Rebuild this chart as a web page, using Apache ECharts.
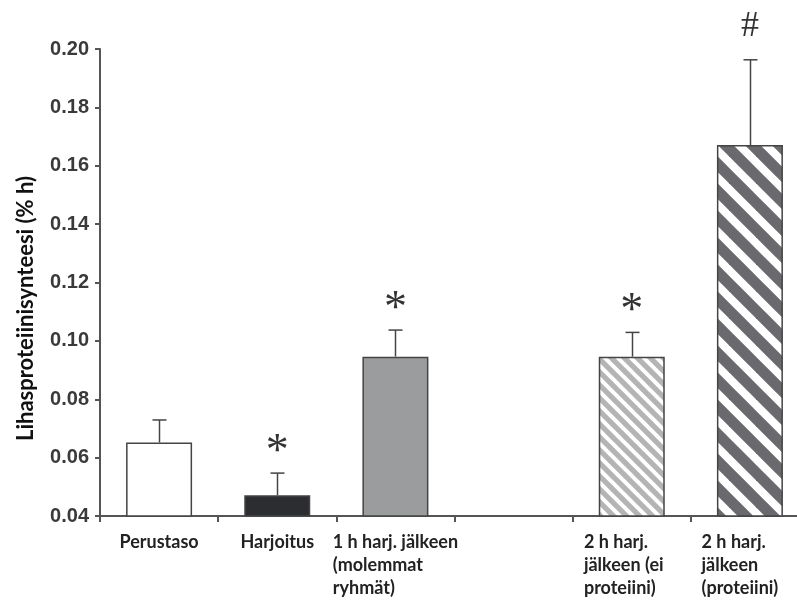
<!DOCTYPE html>
<html>
<head>
<meta charset="utf-8">
<script src="https://cdn.jsdelivr.net/npm/echarts@6/dist/echarts.min.js"></script>
<style>html,body{margin:0;padding:0;background:#fff;overflow:hidden;width:797px;height:603px}#c{width:809px;height:603px}</style>
</head>
<body>
<div id="c"></div>
<script>
const categories = ['Perustaso', 'Harjoitus', '1 h harj. jälkeen\n(molemmat\nryhmät)', '', '2 h harj.\njälkeen (ei\nproteiini)', '2 h harj.\njälkeen\n(proteiini)'];
const means = [0.0652, 0.0471, 0.0946, null, 0.0946, 0.1671];
const errTop = [0.0729, 0.0547, 0.1037, null, 0.1029, 0.1963];
const marks = ['', '*', '*', '', '*', '#'];
const yTicks = { min: 0.04, max: 0.20, interval: 0.02 };
const yName = 'Lihasproteiinisynteesi (% h)';

function stripe(bg, fg, P, w) {
  const c = document.createElement('canvas');
  c.width = P; c.height = P;
  const g = c.getContext('2d');
  g.fillStyle = bg; g.fillRect(0, 0, P, P);
  g.strokeStyle = fg; g.lineWidth = w;
  for (let k = -2; k <= 2; k++) {
    g.beginPath(); g.moveTo(k * P - P, -P); g.lineTo(k * P + 2 * P, 2 * P); g.stroke();
  }
  return c;
}
const fills = [
  '#ffffff',
  '#2b2d31',
  '#9b9c9e',
  'transparent',
  { image: stripe('#b4b4b4', '#ffffff', 13, 4), repeat: 'repeat' },
  { image: stripe('#6a6a6e', '#ffffff', 27, 8), repeat: 'repeat' }
];
const labelShift = [0, 0, 0, 0, 16, 20];

const markData = marks.map((m, i) => [i, errTop[i], m]).filter(d => d[2] !== '');

const chart = echarts.init(document.getElementById('c'), null, { renderer: 'canvas' });
const axisCol = '#555555';
chart.setOption({
  animation: false,
  backgroundColor: '#ffffff',
  grid: { left: 100, right: 0, top: 49, bottom: 87, containLabel: false },
  xAxis: {
    type: 'category',
    data: categories.map((c, i) => ({ value: c, textStyle: { padding: [0, labelShift[i], 0, 0] } })),
    axisLine: { lineStyle: { color: axisCol, width: 2 } },
    axisTick: { show: true, length: 6, lineStyle: { color: axisCol, width: 2 } },
    axisLabel: {
      interval: 0, margin: 15,
      formatter: v => v.split('\n').map(s => '{l|' + s + '}').join('\n'),
      rich: { l: { align: 'left', fontFamily: 'Lato', fontWeight: 'bold', fontSize: 18, lineHeight: 23, color: '#222' } }
    }
  },
  yAxis: {
    type: 'value',
    min: yTicks.min, max: yTicks.max, interval: yTicks.interval,
    name: yName, nameLocation: 'middle', nameGap: 63,
    nameTextStyle: { fontFamily: 'Lato', fontWeight: 'bold', fontSize: 22, color: '#111', padding: [0, 52, 0, 0] },
    axisLine: { show: true, lineStyle: { color: axisCol, width: 2 } },
    axisTick: { show: true, length: 5, lineStyle: { color: axisCol, width: 2 } },
    splitLine: { show: false },
    axisLabel: { margin: 11, formatter: v => v.toFixed(2), fontFamily: 'Liberation Sans', fontWeight: 'bold', fontSize: 20, color: '#3a3a3a' }
  },
  series: [
    {
      type: 'bar',
      barWidth: 66,
      data: means.map((v, i) => ({ value: v, itemStyle: { color: fills[i], borderColor: '#444', borderWidth: 1.5 } })),
      z: 2
    },
    {
      type: 'custom',
      z: 3,
      data: means.map((v, i) => [i, v, errTop[i]]).filter(d => d[1] != null),
      renderItem: (params, api) => {
        const base = api.coord([api.value(0), api.value(1)]);
        const top = api.coord([api.value(0), api.value(2)]);
        const x = Math.round(base[0]) + 0.5;
        return {
          type: 'group',
          children: [
            { type: 'line', shape: { x1: x, y1: base[1], x2: x, y2: top[1] }, style: { stroke: '#444', lineWidth: 1.5 } },
            { type: 'line', shape: { x1: x - 7, y1: top[1], x2: x + 7, y2: top[1] }, style: { stroke: '#444', lineWidth: 1.5 } }
          ]
        };
      }
    },
    {
      type: 'custom',
      z: 4,
      clip: false,
      data: markData,
      renderItem: (params, api) => {
        const d = markData[params.dataIndex];
        const p = api.coord([d[0], d[1]]);
        const isHash = d[2] === '#';
        return {
          type: 'text',
          x: p[0], y: p[1] - (isHash ? 33 : 20),
          style: {
            text: d[2], textAlign: 'center', textVerticalAlign: 'middle',
            fontFamily: 'Liberation Serif', fontSize: isHash ? 36 : 46, fill: '#333'
          }
        };
      }
    }
  ]
});
</script>
</body>
</html>
